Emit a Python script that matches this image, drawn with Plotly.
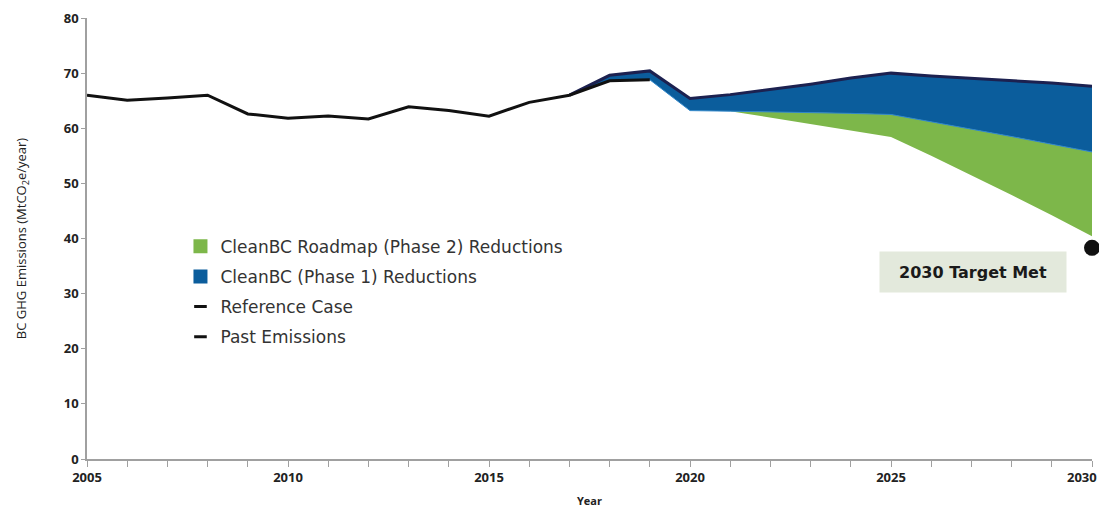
import plotly.graph_objects as go

# ---- data ----
past_years = list(range(2005, 2020))
past_emissions = [66.0, 65.1, 65.5, 66.0, 62.6, 61.8, 62.2, 61.7, 63.9, 63.2, 62.2, 64.7, 66.0, 68.6, 68.8]

proj_years = list(range(2017, 2031))
reference_case = [66.0, 69.6, 70.4, 65.4, 66.1, 67.0, 68.0, 69.1, 70.0, 69.5, 69.1, 68.6, 68.2, 67.6]
phase1 = [66.0, 68.6, 68.8, 63.2, 63.1, 63.0, 62.8, 62.7, 62.5, 61.2, 59.9, 58.5, 57.1, 55.7]

roadmap_years = list(range(2021, 2031))
roadmap_phase2 = [63.1, 61.9, 60.7, 59.5, 58.4, 55.0, 51.5, 47.9, 44.2, 40.4]

target_year = [2030]
target_value = [38.3]

x_tickvals = [2005, 2010, 2015, 2020, 2025, 2030]
y_tickvals = [0, 10, 20, 30, 40, 50, 60, 70, 80]

GREEN = "#7db74a"
BLUE = "#0b5d9c"
NAVY = "#1c2150"
BLACK = "#111111"

phase1_on_roadmap = [v for y, v in zip(proj_years, phase1) if y >= roadmap_years[0]]

fig = go.Figure()

# green band: Roadmap (Phase 2) reductions
fig.add_trace(go.Scatter(x=roadmap_years, y=roadmap_phase2, mode="lines",
                         line=dict(width=0, color=GREEN), showlegend=False, hoverinfo="skip"))
fig.add_trace(go.Scatter(x=roadmap_years, y=phase1_on_roadmap, mode="lines",
                         line=dict(width=0, color=GREEN), fill="tonexty", fillcolor=GREEN,
                         showlegend=False, hoverinfo="skip"))
# blue band: Phase 1 reductions
fig.add_trace(go.Scatter(x=proj_years, y=phase1, mode="lines",
                         line=dict(width=1, color="#2f86c9"), showlegend=False, hoverinfo="skip"))
fig.add_trace(go.Scatter(x=proj_years, y=reference_case, mode="lines",
                         line=dict(width=0, color=BLUE), fill="tonexty", fillcolor=BLUE,
                         showlegend=False, hoverinfo="skip"))
# reference case line
fig.add_trace(go.Scatter(x=proj_years, y=reference_case, mode="lines",
                         line=dict(width=3, color=NAVY), showlegend=False))
# past emissions
fig.add_trace(go.Scatter(x=past_years, y=past_emissions, mode="lines",
                         line=dict(width=3, color=BLACK), showlegend=False))
# target dot
fig.add_trace(go.Scatter(x=target_year, y=target_value, mode="markers",
                         marker=dict(size=16, color="#111111"), cliponaxis=False, showlegend=False))

# legend entries
legend_items = [
    ("CleanBC Roadmap (Phase 2) Reductions", dict(symbol="square", size=14, color=GREEN)),
    ("CleanBC (Phase 1) Reductions", dict(symbol="square", size=14, color=BLUE)),
    ("Reference Case", dict(symbol="line-ew", size=9, color=BLACK, line=dict(width=3, color=BLACK))),
    ("Past Emissions", dict(symbol="line-ew", size=9, color=BLACK, line=dict(width=3, color=BLACK))),
]
for i, (name, mk) in enumerate(legend_items):
    fig.add_trace(go.Scatter(x=[None], y=[None], mode="markers", marker=mk, name=name,
                             legendgroup=f"g{i}", showlegend=True))

fig.add_annotation(x=2027.05, y=33.9, xref="x", yref="y", text="<b>2030 Target Met</b>",
                   showarrow=False, bgcolor="#e3e9dc", width=184, height=38, borderpad=1,
                   font=dict(family="DejaVu Sans", size=16, color="#1a1a1a"))

# last x tick label kept inside the page (right-aligned at the edge)
fig.add_annotation(x=x_tickvals[-1], y=0, xref="x", yref="paper", text=str(x_tickvals[-1]),
                   showarrow=False, xanchor="right", yanchor="top", xshift=7, yshift=-7,
                   font=dict(family="Open Sans", size=13, color="#222222", weight="bold"))

fig.update_layout(
    width=1099, height=509,
    margin=dict(l=87, r=7, t=18, b=50),
    paper_bgcolor="white", plot_bgcolor="white",
    showlegend=True,
    legend=dict(x=0.093, y=0.522, xanchor="left", yanchor="top", bgcolor="rgba(0,0,0,0)",
                font=dict(family="DejaVu Sans", size=17, color="#333333"),
                tracegroupgap=5, itemwidth=30),
    font=dict(family="Open Sans", color="#222222"),
)
fig.update_xaxes(range=[2005, 2030], tickmode="array", tickvals=x_tickvals[:-1],
                 ticktext=[str(v) for v in x_tickvals[:-1]], automargin=False,
                 tickfont=dict(family="Open Sans", size=13, color="#222222", weight="bold"),
                 showgrid=False, zeroline=False, showline=True, linecolor="#a0a0a0", linewidth=1.5,
                 ticks="outside", ticklen=6, tickcolor="#a0a0a0",
                 minor=dict(dtick=1, ticks="outside", ticklen=6, tickcolor="#a0a0a0"),
                 title=dict(text="<b>Year</b>", font=dict(family="Open Sans", size=11, color="#222222"), standoff=12))
fig.update_yaxes(range=[0, 80], tickmode="array", tickvals=y_tickvals, automargin=False,
                 tickfont=dict(family="Open Sans", size=13, color="#222222", weight="bold"),
                 showgrid=False, zeroline=False, showline=True, linecolor="#a0a0a0", linewidth=1.5,
                 ticks="outside", ticklen=4, tickcolor="#a0a0a0",
                 title=dict(text="BC GHG Emissions (MtCO<sub>2</sub>e/year)",
                            font=dict(family="Open Sans", size=13, color="#222222"), standoff=34))

fig.write_html("out.html")
